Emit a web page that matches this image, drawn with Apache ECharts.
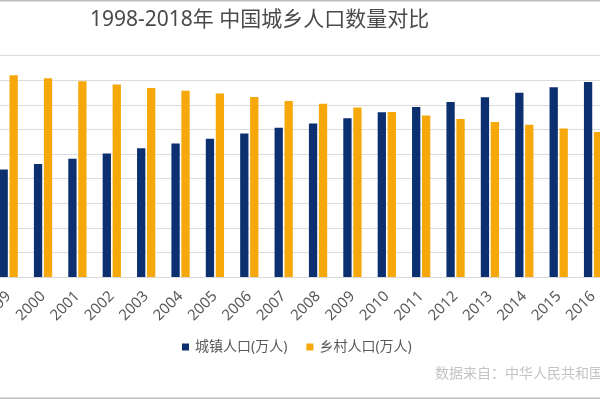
<!DOCTYPE html>
<html>
<head>
<meta charset="utf-8">
<script src="https://cdn.jsdelivr.net/npm/echarts@6/dist/echarts.min.js"></script>
<style>
html,body{margin:0;padding:0;background:#fff;overflow:hidden;width:600px;height:400px;}
#wrap{position:relative;width:600px;height:400px;overflow:hidden;}
#main{position:absolute;left:-80px;top:0;width:760px;height:400px;}
</style>
</head>
<body>
<div id="wrap"><div id="main"></div></div>
<script>
const years = ['1998','1999','2000','2001','2002','2003','2004','2005','2006','2007','2008','2009','2010','2011','2012','2013','2014','2015','2016','2017','2018'];
const urban = [41608,43748,45906,48064,50212,52376,54283,56212,58288,60633,62403,64512,66978,69079,71182,73111,74916,77116,79298,81347,83137];
const rural = [83153,82038,80837,79563,78241,76851,75705,74544,73160,71496,70399,68938,67113,65656,64222,62961,61866,60346,58973,57661,56401];
const seriesNames = ['城镇人口(万人)','乡村人口(万人)'];
const titleText = '1998-2018年 中国城乡人口数量对比';
const sourceText = '数据来自：中华人民共和国国家统计局';

const OX = 80; // container offset
const FF = "'Noto Sans', 'Noto Sans CJK SC', sans-serif";
const chart = echarts.init(document.getElementById('main'), null, {renderer:'canvas'});
chart.setOption({
  animation:false,
  backgroundColor:'#fff',
  textStyle:{fontFamily:FF},
  title:{
    text:titleText, left:90+OX, top:10, padding:0,
    textStyle:{fontSize:21, fontWeight:'normal', color:'#4a4a4a', fontFamily:FF}
  },
  legend:{
    left:182+OX, top:340, padding:0, itemWidth:7, itemHeight:7, itemGap:19,
    icon:'rect',
    textStyle:{fontSize:14, color:'#595959', fontFamily:FF, padding:[0,0,0,1]},
    data:seriesNames
  },
  grid:{left:-42.9+OX, top:55.6, width:721.9, height:221.4, containLabel:false},
  xAxis:{
    type:'category', data:years,
    axisLine:{lineStyle:{color:'#d9d9d9'}},
    axisTick:{show:false},
    axisLabel:{rotate:45, interval:0, fontSize:15, color:'#595959', margin:17, fontFamily:FF}
  },
  yAxis:{
    type:'value', min:0, max:90000, interval:10000,
    axisLabel:{show:false}, axisLine:{show:false}, axisTick:{show:false},
    splitLine:{lineStyle:{color:'#dcdcdc'}}
  },
  series:[
    {name:seriesNames[0], type:'bar', data:urban, barWidth:8.3, barGap:'20%', itemStyle:{color:'#0b2f6f'}},
    {name:seriesNames[1], type:'bar', data:rural, barWidth:8.3, barGap:'20%', itemStyle:{color:'#f6a80a'}}
  ],
  graphic:[
    {type:'rect', shape:{x:OX,y:0,width:600,height:1.5}, style:{fill:'#bdbdbd'}, silent:true},
    {type:'rect', shape:{x:OX,y:397.5,width:600,height:1.5}, style:{fill:'#bdbdbd'}, silent:true},
    {type:'text', left:435+OX, top:367, style:{text:sourceText, fontSize:14, fill:'#c4c4c4', fontFamily:FF}, silent:true}
  ]
});
</script>
</body>
</html>
